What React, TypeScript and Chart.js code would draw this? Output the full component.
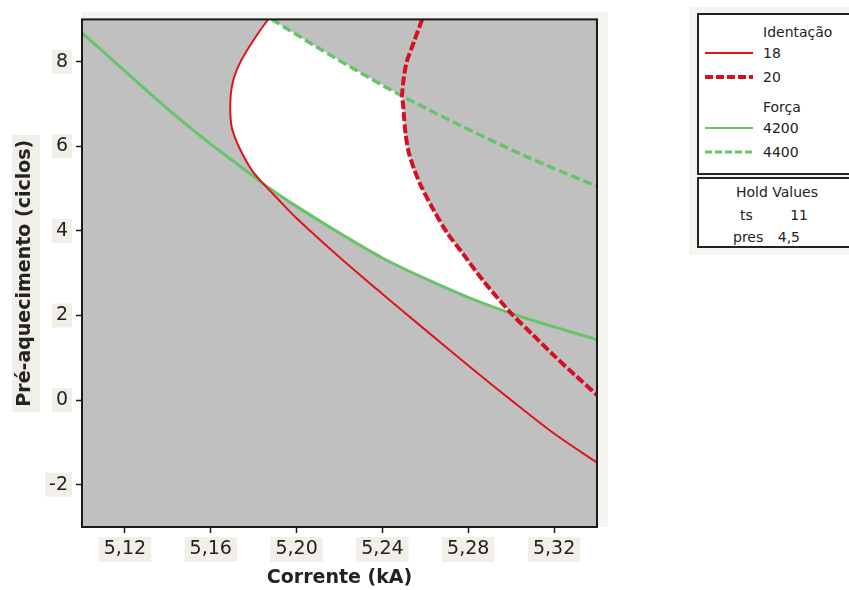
import React, { useEffect, useRef } from 'react';
import { Chart, registerables } from 'chart.js';

Chart.register(...registerables);

type Pt = [number, number];

// Axis ticks
const xTicks = [5.12, 5.16, 5.2, 5.24, 5.28, 5.32];
const yTicks = [-2, 0, 2, 4, 6, 8];

// Crossing points shared by the contour lines
const X_18_4200: Pt = [5.1848, 5.1];
const X_20_4200: Pt = [5.3, 2.05];
const X_20_4400: Pt = [5.2491, 7.19];

// Identação = 18
const identacao18: Pt[] = [
  [5.1867, 9.0], [5.1818, 8.65], [5.1773, 8.3], [5.1734, 7.95], [5.1708, 7.62],
  [5.1695, 7.3], [5.1691, 7.0], [5.1692, 6.7], [5.17, 6.4], [5.1731, 5.99],
  [5.1792, 5.43], X_18_4200, [5.1904, 4.8], [5.2, 4.3], [5.22, 3.38],
  [5.24, 2.51], [5.26, 1.66], [5.28, 0.82], [5.3, 0.0], [5.32, -0.79],
  [5.34, -1.48],
];

// Identação = 20
const identacao20: Pt[] = [
  [5.2585, 9.0], [5.2547, 8.47], [5.251, 7.93], X_20_4400, [5.2496, 7.0],
  [5.2508, 6.29], [5.2524, 5.83], [5.255, 5.43], [5.258, 5.06], [5.2641, 4.47],
  [5.2701, 3.96], [5.2771, 3.49], [5.2864, 2.86], X_20_4200, [5.31, 1.55],
  [5.32, 1.05], [5.33, 0.58], [5.34, 0.12],
];

// Força = 4200
const forca4200: Pt[] = [
  [5.1, 8.68], [5.12, 7.78], [5.14, 6.88], [5.16, 6.05], [5.18, 5.29],
  X_18_4200, [5.2, 4.58], [5.22, 3.95], [5.24, 3.36], [5.26, 2.87],
  [5.28, 2.43], X_20_4200, [5.32, 1.73], [5.34, 1.43],
];

// Força = 4400
const forca4400: Pt[] = [
  [5.1885, 9.0], [5.209, 8.36], [5.2291, 7.76], X_20_4400, [5.2757, 6.51],
  [5.3069, 5.76], [5.34, 5.05],
];

// Feasible (white) region assembled from the contour lines
const at = (arr: Pt[], p: Pt) => arr.indexOf(p);
const feasibleRegion: Pt[] = [
  ...identacao18.slice(0, at(identacao18, X_18_4200) + 1),
  ...forca4200.slice(at(forca4200, X_18_4200) + 1, at(forca4200, X_20_4200) + 1),
  ...identacao20.slice(at(identacao20, X_20_4400), at(identacao20, X_20_4200)).reverse(),
  ...forca4400.slice(0, at(forca4400, X_20_4400)).reverse(),
];

const RED = '#e0141c';
const RED_D = '#d80f1f';
const GREEN = '#68c468';
const BEIGE = '#f2efe9';
const BEIGE_L = '#f6f4f0';
const FONT = '"DejaVu Sans", Verdana, sans-serif';

const fmtX = (v: number) => Number(v).toFixed(2).replace('.', ',');
const toXY = (a: Pt[]) => a.map(([x, y]) => ({ x, y }));

const bgPlugin = {
  id: 'bgPlugin',
  beforeDraw(chart: any) {
    const { ctx, chartArea: a, scales } = chart;
    ctx.save();
    ctx.fillStyle = BEIGE_L;
    ctx.fillRect(a.left, a.top - 7, a.right - a.left + 11, a.bottom - a.top + 7);
    ctx.fillStyle = BEIGE;
    ctx.font = '19px ' + FONT;
    const xs = scales.x;
    xs.ticks.forEach((t: any) => {
      const w = ctx.measureText(fmtX(t.value)).width + 10;
      const px = xs.getPixelForValue(t.value);
      ctx.fillRect(px - w / 2, a.bottom + 10, w, 25);
    });
    const ys = scales.y;
    ys.ticks.forEach((t: any) => {
      const w = ctx.measureText(String(t.value)).width + 8;
      const py = ys.getPixelForValue(t.value);
      ctx.fillRect(a.left - 10 - w, py - 12, w, 24);
    });
    ctx.font = 'bold 19px ' + FONT;
    const tw = ctx.measureText('Pré-aquecimento (ciclos)').width + 10;
    const cy = (a.top + a.bottom) / 2;
    ctx.fillRect(12, cy - tw / 2, 28, tw);
    ctx.fillStyle = '#c0c0c0';
    ctx.fillRect(a.left, a.top, a.right - a.left, a.bottom - a.top);
    ctx.restore();
  },
  afterDraw(chart: any) {
    const { ctx, chartArea: a } = chart;
    ctx.save();
    ctx.strokeStyle = '#1a1a1a';
    ctx.lineWidth = 2;
    ctx.strokeRect(a.left, a.top, a.right - a.left, a.bottom - a.top);
    ctx.restore();
  },
};

function LegendLine({ color, width, dash, y }: { color: string; width: number; dash?: string; y: number }) {
  return (
    <svg width={50} height={10} style={{ position: 'absolute', left: 704, top: y - 5 }}>
      <line x1={1} y1={5} x2={49} y2={5} stroke={color} strokeWidth={width} strokeDasharray={dash} />
    </svg>
  );
}

function Txt({ x, y, children, right }: { x: number; y: number; children: React.ReactNode; right?: boolean }) {
  const style: React.CSSProperties = {
    position: 'absolute',
    top: y - 9,
    lineHeight: '18px',
    fontSize: 14,
    fontFamily: FONT,
    color: '#222',
    whiteSpace: 'nowrap',
  };
  if (right) {
    style.right = 849 - x;
  } else {
    style.left = x;
  }
  return <div style={style}>{children}</div>;
}

export default function App() {
  const ref = useRef<HTMLCanvasElement | null>(null);

  useEffect(() => {
    if (!ref.current) return;
    const lineDs = (label: string, data: Pt[], color: string, width: number, dash: number[] = []) => ({
      label,
      data: toXY(data),
      showLine: true,
      borderColor: color,
      borderWidth: width,
      borderDash: dash,
      pointRadius: 0,
      tension: 0.3,
      fill: false,
    });
    const chart = new Chart(ref.current, {
      type: 'scatter',
      data: {
        datasets: [
          lineDs('Identação 20', identacao20, RED_D, 4, [9, 3]),
          lineDs('Identação 18', identacao18, RED, 2),
          lineDs('Força 4400', forca4400, GREEN, 3.5, [9, 4]),
          lineDs('Força 4200', forca4200, GREEN, 3),
          {
            label: 'região',
            data: toXY(feasibleRegion),
            showLine: true,
            borderWidth: 0,
            borderColor: 'rgba(0,0,0,0)',
            backgroundColor: '#ffffff',
            pointRadius: 0,
            tension: 0,
            fill: 'shape',
          } as any,
        ],
      },
      options: {
        animation: false,
        responsive: false,
        events: [],
        layout: { padding: { left: 0, top: 14, right: 252, bottom: 0 } },
        plugins: {
          legend: { display: false },
          tooltip: { enabled: false },
          filler: { drawTime: 'beforeDatasetsDraw' } as any,
        },
        scales: {
          x: {
            type: 'linear',
            min: 5.1,
            max: 5.34,
            afterBuildTicks: (s: any) => {
              s.ticks = xTicks.map((v) => ({ value: v }));
            },
            afterFit: (s: any) => {
              s.height = 63;
            },
            ticks: {
              callback: (v: any) => fmtX(v),
              font: { family: FONT, size: 19 },
              color: '#222',
              padding: 5,
              maxRotation: 0,
              autoSkip: false,
            },
            grid: { drawOnChartArea: false, drawTicks: true, tickLength: 6, tickColor: '#1a1a1a', tickWidth: 1.5 },
            border: { display: false },
            title: {
              display: true,
              text: 'Corrente (kA)',
              font: { family: FONT, size: 19, weight: 'bold' },
              color: '#222',
              padding: { top: 0, bottom: 1 },
            },
          },
          y: {
            type: 'linear',
            min: -3,
            max: 9,
            afterBuildTicks: (s: any) => {
              s.ticks = yTicks.map((v) => ({ value: v }));
            },
            afterFit: (s: any) => {
              s.width = 82;
            },
            ticks: {
              callback: (v: any) => String(v),
              font: { family: FONT, size: 19 },
              color: '#222',
              padding: 8,
              autoSkip: false,
            },
            grid: { drawOnChartArea: false, drawTicks: true, tickLength: 6, tickColor: '#1a1a1a', tickWidth: 1.5 },
            border: { display: false },
            title: {
              display: true,
              text: 'Pré-aquecimento (ciclos)',
              font: { family: FONT, size: 19, weight: 'bold' },
              color: '#222',
              padding: { top: 14, bottom: 0 },
            },
          },
        },
      } as any,
      plugins: [bgPlugin],
    });
    return () => chart.destroy();
  }, []);

  const box: React.CSSProperties = {
    position: 'absolute',
    left: 697,
    width: 170,
    boxSizing: 'border-box',
    border: '2px solid #222',
    background: '#fff',
  };

  return (
    <div style={{ position: 'fixed', left: 0, top: 0, width: 849, height: 590, overflow: 'hidden', background: '#fff' }}>
      <canvas ref={ref} width={849} height={590} style={{ position: 'absolute', left: 0, top: 0, display: 'block' }} />
      <div style={{ position: 'absolute', left: 689, top: 7, width: 160, height: 248, background: BEIGE_L }} />
      <div style={{ ...box, top: 13, height: 162 }} />
      <div style={{ ...box, top: 177, height: 71 }} />
      <Txt x={763} y={32}>Identação</Txt>
      <LegendLine color={RED} width={2} y={53} />
      <Txt x={763} y={53}>18</Txt>
      <LegendLine color={RED_D} width={4} dash="8 3" y={77} />
      <Txt x={763} y={77}>20</Txt>
      <Txt x={763} y={107}>Força</Txt>
      <LegendLine color={GREEN} width={2} y={128} />
      <Txt x={763} y={128}>4200</Txt>
      <LegendLine color={GREEN} width={3} dash="7 3" y={152} />
      <Txt x={763} y={152}>4400</Txt>
      <div
        style={{
          position: 'absolute',
          left: 697,
          width: 160,
          top: 183,
          textAlign: 'center',
          lineHeight: '18px',
          fontSize: 14,
          fontFamily: FONT,
          color: '#222',
        }}
      >
        Hold Values
      </div>
      <Txt x={740} y={215}>ts</Txt>
      <Txt x={808} y={215} right>11</Txt>
      <Txt x={733} y={237}>pres</Txt>
      <Txt x={800} y={237} right>4,5</Txt>
    </div>
  );
}
